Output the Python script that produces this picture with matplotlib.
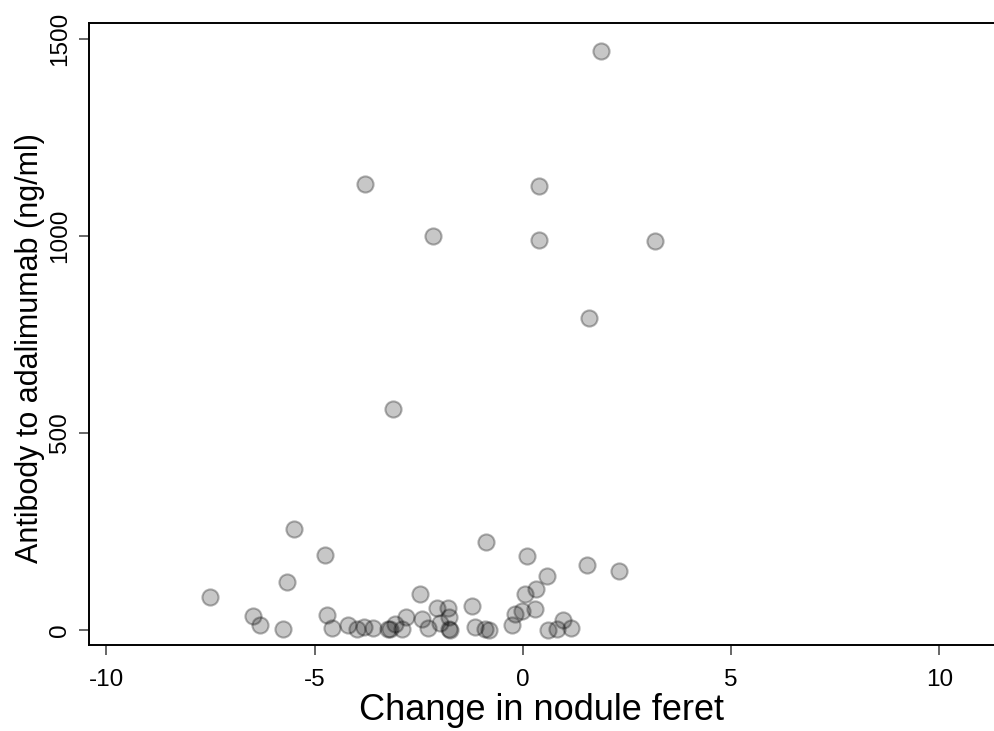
import matplotlib
matplotlib.use("Agg")
import matplotlib.pyplot as plt

# change in nodule feret vs antibody to adalimumab (ng/ml)
feret_change = [
    1.87, -3.79, 0.38, -2.16, 0.38, 3.17, 1.59, -3.12,
    -5.50, -0.89, -4.75, 0.11, -5.66, 0.57, 1.53, 2.31,
    -7.52, -6.48, -6.32, -5.77,
    -4.71, -4.59, -4.19, -3.99, -3.81, -3.59, -3.23, -3.20, -3.07, -2.91,
    -2.81, -2.46, -2.41, -2.27, -2.07, -1.98, -1.79, -1.77, -1.77, -1.76,
    -1.23, -1.15, -0.91, -0.81, -0.27, -0.19, -0.03, 0.05, 0.31, 0.29,
    0.61, 0.82, 0.97, 1.15,
]
antibody = [
    1469, 1132, 1127, 1000, 990, 987, 792, 561,
    256, 224, 190, 189, 121, 138, 165, 151,
    83, 35, 14, 2,
    39, 6, 12, 2, 9, 4, 2, 3, 16, 2,
    32, 92, 27, 6, 55, 18, 55, 34, 2, 1,
    62, 8, 2, 0, 13, 40, 49, 91, 103, 54,
    1, 2, 25, 6,
]

xticks = [-10, -5, 0, 5, 10]
yticks = [0, 500, 1000, 1500]

plt.rcParams.update({
    "font.family": ["Liberation Sans", "DejaVu Sans"],
    "axes.linewidth": 1.4,
    "axes.unicode_minus": False,
})

fig = plt.figure(figsize=(9.95, 7.31), dpi=100)
ax = fig.add_axes([0.0894, 0.1176, 0.9106, 0.8509])

ax.scatter(feret_change, antibody, s=135,
           facecolors=(0, 0, 0, 0.22), edgecolors=(0, 0, 0, 0.3),
           linewidths=1.5, zorder=3)

ax.set_xlim(-10.42, 11.34)
ax.set_ylim(-38, 1540)
ax.set_xticks(xticks)
ax.set_yticks(yticks)
ax.tick_params(axis="both", direction="out", length=7, width=1.2,
               labelsize=17.5, color="0.3")
ax.tick_params(axis="x", pad=10)
ax.tick_params(axis="y", pad=6)
for lab in ax.get_yticklabels():
    lab.set_rotation(90)
    lab.set_va("center")

ax.spines["right"].set_visible(False)

ax.set_xlabel("Change in nodule feret", fontsize=26, labelpad=2)
ax.set_ylabel("Antibody to adalimumab (ng/ml)", fontsize=22)
ax.yaxis.set_label_coords(-0.049, 0.478)

fig.savefig("out.png", dpi=100)
